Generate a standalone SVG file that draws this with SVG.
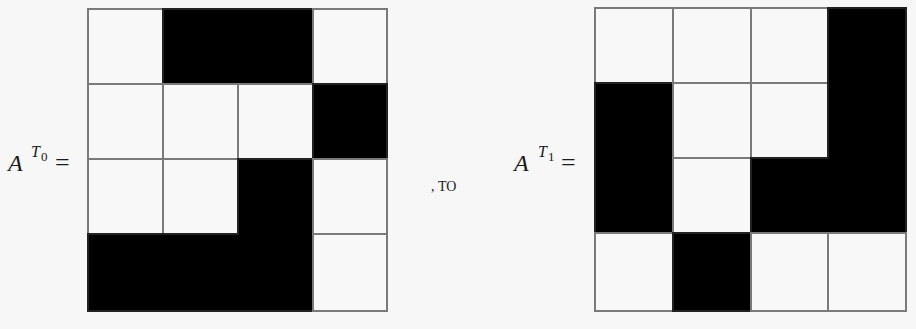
<svg xmlns="http://www.w3.org/2000/svg" width="916" height="329" viewBox="0 0 916 329">
<style>
.w{fill:#f8f8f8;stroke:#7a7a7a;stroke-width:2}
.b{fill:#000;stroke:#222;stroke-width:2}
.t{font-family:"Liberation Serif",serif;fill:#1a1a1a}
</style>
<rect width="916" height="329" fill="#f7f7f7"/>
<g id="label0" class="t">
<text x="8" y="171" font-size="24" font-style="italic">A</text>
<text x="31" y="157" font-size="16" font-style="italic">T</text>
<text x="41" y="161" font-size="13">0</text>
<text x="55" y="171" font-size="26">=</text>
</g>
<g id="gridA">
<rect class="w" x="88" y="9" width="75" height="75"/>
<rect class="b" x="163" y="9" width="75" height="75"/>
<rect class="b" x="238" y="9" width="75" height="75"/>
<rect class="w" x="313" y="9" width="74" height="75"/>
<rect class="w" x="88" y="84" width="75" height="75"/>
<rect class="w" x="163" y="84" width="75" height="75"/>
<rect class="w" x="238" y="84" width="75" height="75"/>
<rect class="b" x="313" y="84" width="74" height="75"/>
<rect class="w" x="88" y="159" width="75" height="75"/>
<rect class="w" x="163" y="159" width="75" height="75"/>
<rect class="b" x="238" y="159" width="75" height="75"/>
<rect class="w" x="313" y="159" width="74" height="75"/>
<rect class="b" x="88" y="234" width="75" height="77"/>
<rect class="b" x="163" y="234" width="75" height="77"/>
<rect class="b" x="238" y="234" width="75" height="77"/>
<rect class="w" x="313" y="234" width="74" height="77"/>
<rect x="89" y="235" width="223" height="75" fill="#000"/>
<rect x="164" y="10" width="148" height="73" fill="#000"/>
<rect x="239" y="160" width="73" height="150" fill="#000"/>
</g>
<g id="sep" class="t">
<text x="431" y="191" font-size="14">, ТО</text>
</g>
<g id="label1" class="t">
<text x="514" y="171" font-size="24" font-style="italic">A</text>
<text x="538" y="157" font-size="16" font-style="italic">T</text>
<text x="548" y="161" font-size="13">1</text>
<text x="561" y="171" font-size="26">=</text>
</g>
<g id="gridB">
<rect class="w" x="595" y="8" width="78" height="75"/>
<rect class="w" x="673" y="8" width="78" height="75"/>
<rect class="w" x="751" y="8" width="77" height="75"/>
<rect class="b" x="828" y="8" width="78" height="75"/>
<rect class="b" x="595" y="83" width="78" height="75"/>
<rect class="w" x="673" y="83" width="78" height="75"/>
<rect class="w" x="751" y="83" width="77" height="75"/>
<rect class="b" x="828" y="83" width="78" height="75"/>
<rect class="b" x="595" y="158" width="78" height="75"/>
<rect class="w" x="673" y="158" width="78" height="75"/>
<rect class="b" x="751" y="158" width="77" height="75"/>
<rect class="b" x="828" y="158" width="78" height="75"/>
<rect class="w" x="595" y="233" width="78" height="78"/>
<rect class="b" x="673" y="233" width="78" height="78"/>
<rect class="w" x="751" y="233" width="77" height="78"/>
<rect class="w" x="828" y="233" width="78" height="78"/>
<rect x="829" y="9" width="76" height="223" fill="#000"/>
<rect x="596" y="84" width="76" height="148" fill="#000"/>
<rect x="752" y="159" width="153" height="73" fill="#000"/>
</g>
</svg>
